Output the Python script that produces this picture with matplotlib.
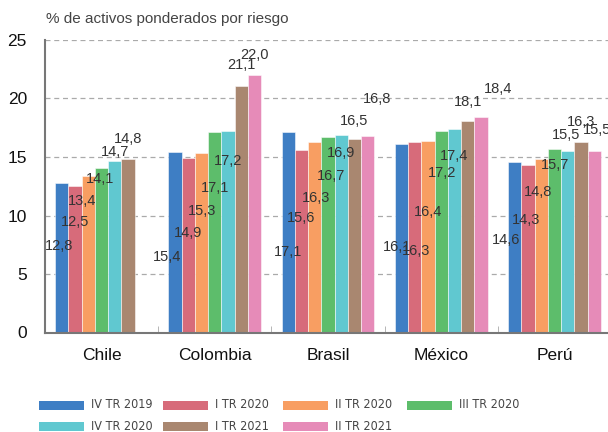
import matplotlib
matplotlib.use('Agg')
import matplotlib.pyplot as plt
import numpy as np
from matplotlib.patches import Rectangle
from matplotlib import font_manager

plt.rcParams['font.family'] = ['Liberation Sans', 'DejaVu Sans']

countries = ['Chile', 'Colombia', 'Brasil', 'México', 'Perú']
periods = ['IV TR 2019', 'I TR 2020', 'II TR 2020', 'III TR 2020',
           'IV TR 2020', 'I TR 2021', 'II TR 2021']
colors = ['#3e7ec4', '#d76b7a', '#f89e62', '#5dbd6b',
          '#60c8d0', '#a98770', '#e68bb8']

# values per period, one per country
iv_2019 = [12.8, 15.4, 17.1, 16.1, 14.6]
i_2020 = [12.5, 14.9, 15.6, 16.3, 14.3]
ii_2020 = [13.4, 15.3, 16.3, 16.4, 14.8]
iii_2020 = [14.1, 17.1, 16.7, 17.2, 15.7]
iv_2020 = [14.7, 17.2, 16.9, 17.4, 15.5]
i_2021 = [14.8, 21.1, 16.5, 18.1, 16.3]
ii_2021 = [np.nan, 22.0, 16.8, 18.4, 15.5]
series = [iv_2019, i_2020, ii_2020, iii_2020, iv_2020, i_2021, ii_2021]

# where the (scattered) value labels sit: height in axis units, x shift in px
label_y = [[7.4, 6.45, 6.9, 7.3, 7.9],
           [9.45, 8.5, 9.8, 6.95, 9.6],
           [11.25, 10.4, 11.5, 10.3, 12.0],
           [13.1, 12.35, 13.4, 13.65, 14.3],
           [15.4, 14.65, 15.3, 15.1, 16.9],
           [16.5, 22.85, 18.1, 19.7, 18.0],
           [np.nan, 23.7, 19.95, 20.8, 17.3]]
label_dx = [[-2.6, -8, 0, -4.6, -8.6],
            [0, 0, 0, 1, -2],
            [-6, 1, 1, 0, -3],
            [-1.5, 0, 3, 0.5, 0.5],
            [0, 0, 0, 0, -2],
            [0, 0, 0, 0, 0],
            [0, 0, 9, 16.6, 3]]

# narrow font for the legend if there is one
legend_font = dict(family='Liberation Sans', fontsize=8.6)
for fam, st in [('Liberation Sans Narrow', 'normal'),
                ('DejaVu Sans', 'condensed')]:
    try:
        f = font_manager.findfont(font_manager.FontProperties(family=fam, stretch=st),
                                  fallback_to_default=False)
        if 'Narrow' in f or 'Condensed' in f:
            legend_font = dict(family=fam, stretch=st, fontsize=9)
            break
    except Exception:
        pass

fig = plt.figure(figsize=(6.08, 4.32), dpi=100)
ax = fig.add_axes([45 / 608, 99.5 / 432, 566 / 608, 292.5 / 432])

x = np.arange(len(countries))
w = 0.82 / len(periods)

for i, vals in enumerate(series):
    xs = x + (i - 3) * w
    ax.bar(xs, vals, w, color=colors[i], edgecolor=(1, 1, 1, 0.6),
           linewidth=0.6, zorder=2)
    for j, v in enumerate(vals):
        if np.isnan(v):
            continue
        ax.annotate(f'{v:.1f}'.replace('.', ','), (xs[j], label_y[i][j]),
                    xytext=(label_dx[i][j], 0), textcoords='offset pixels',
                    ha='center', va='center', fontsize=10.5, color='#333333',
                    zorder=3, annotation_clip=False)

ax.set_xlim(-0.5, len(countries) - 0.5)
ax.set_ylim(0, 25)
ax.set_yticks([0, 5, 10, 15, 20, 25])
ax.yaxis.grid(True, linestyle=(0, (4, 3)), color='#aaaaaa', linewidth=0.9)
ax.set_axisbelow(True)

ax.set_xticks(x)
ax.set_xticklabels(countries)
ax.set_xticks(x[:-1] + 0.5, minor=True)
ax.tick_params(axis='x', which='major', length=0, pad=11, labelsize=12.5,
               labelcolor='#111111')
ax.tick_params(axis='x', which='minor', direction='in', length=5,
               color='#aaaaaa')
ax.tick_params(axis='y', length=0, pad=13, labelsize=12.5,
               labelcolor='#111111')

for side in ['top', 'right']:
    ax.spines[side].set_visible(False)
for side in ['left', 'bottom']:
    ax.spines[side].set_color('#777777')
    ax.spines[side].set_linewidth(1.5)

fig.text(46 / 608, 1 - 19 / 432, '% de activos ponderados por riesgo',
         fontsize=11, color='#444444', va='center', ha='left')

# legend, drawn by hand: 4 columns, 2 rows
col_x = [39, 163, 283, 407]
row_y = [405, 426]
for i, name in enumerate(periods):
    r, c = divmod(i, 4)
    x0 = col_x[c]
    y0 = row_y[r]
    fig.patches.append(Rectangle((x0 / 608, 1 - (y0 + 4.5) / 432), 45 / 608,
                                 9 / 432, transform=fig.transFigure,
                                 facecolor=colors[i], edgecolor='none'))
    fig.text((x0 + 52) / 608, 1 - y0 / 432, name, color='#444444',
             va='center', ha='left', **legend_font)

fig.savefig('out.png', dpi=100)
